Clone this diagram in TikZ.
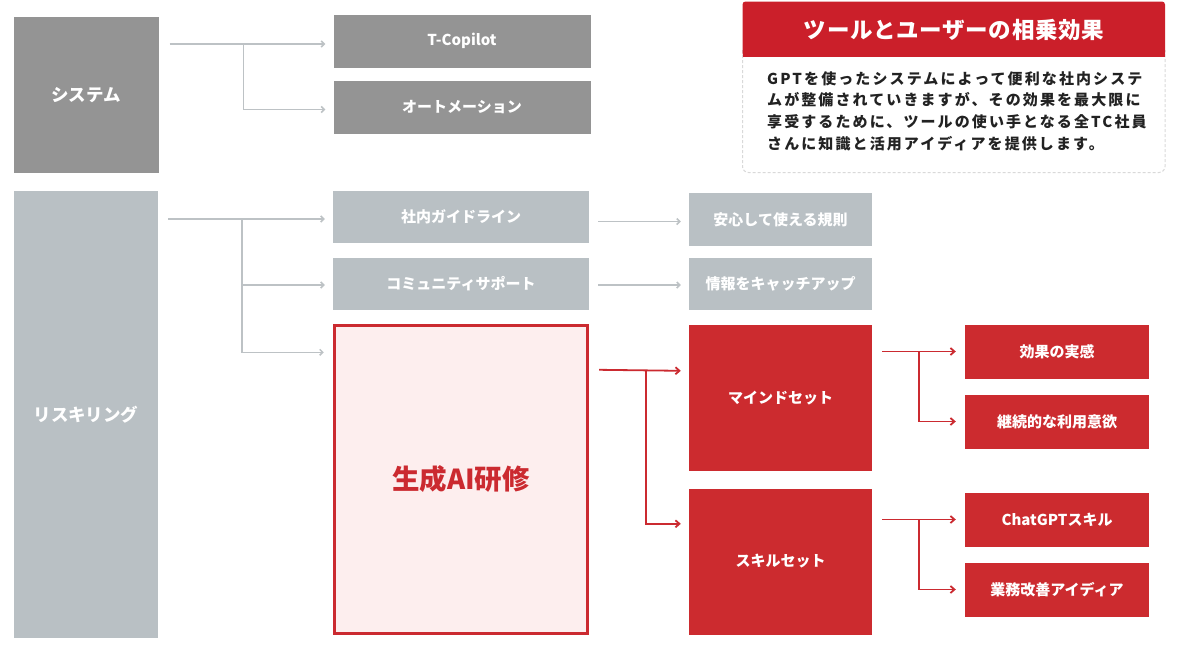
\documentclass[tikz,border=0pt]{standalone}
\usepackage{fontspec}
\setmainfont{Noto Sans CJK JP}
\newfontfamily\bodyfont{Noto Sans CJK JP}[LetterSpace=14]
\newfontfamily\headfont{Noto Sans CJK JP}[LetterSpace=3]
\usetikzlibrary{arrows.meta,calc}
\definecolor{dgray}{HTML}{949494}
\definecolor{lgray}{HTML}{B9C0C4}
\definecolor{boxred}{HTML}{CC2B2F}
\definecolor{headred}{HTML}{CB1F2A}
\definecolor{pinkfill}{HTML}{FDEEEE}
\definecolor{lineg}{HTML}{BDC2C5}
\definecolor{liner}{HTML}{CB2A30}
\definecolor{dashg}{HTML}{D9D9D9}
\definecolor{bodytext}{HTML}{222222}
\begin{document}
\begin{tikzpicture}[x=1pt,y=-1pt,
  box/.style={rectangle, inner sep=0pt, text=white, font=\bfseries\fontsize{15}{17}\selectfont},
  dbox/.style={box, fill=dgray},
  lbox/.style={box, fill=lgray},
  rbox/.style={box, fill=boxred},
  bigtext/.style={font=\bfseries\fontsize{17.5}{20}\selectfont},
  gline/.style={draw=lineg, line width=1.5pt, -{Straight Barb[length=3pt,width=6pt]}},
  rline/.style={draw=liner, line width=1.8pt, -{Straight Barb[length=4pt,width=7pt]}},
]
\useasboundingbox (0,0) rectangle (1200,651);

% ---------- system ----------
\node[dbox, bigtext, minimum width=145pt, minimum height=156pt] (sys) at (86,95) {システム};
\node[dbox, minimum width=257pt, minimum height=53pt] (tc) at (462,41) {T-Copilot};
\node[dbox, minimum width=257pt, minimum height=53pt] (auto) at (462,107.5) {オートメーション};

\coordinate (s0) at ($(sys.east |- tc.west)+(11,3)$);
\coordinate (sj) at ($(s0)+(74,0)$);
\draw[gline] (s0) -- ($(tc.west)+(-8,3)$);
\draw[gline] (sj) |- ($(auto.west)+(-8,2)$);

% ---------- callout ----------
\draw[dashg, line width=1pt, dash pattern=on 3pt off 2pt, rounded corners=6pt]
  (742.5,50) -- (742.5,172.5) -- (1165,172.5) -- (1165,50);
\fill[headred, rounded corners=3pt] (742.5,1.5) rectangle (1165,56.5);
\fill[headred] (742.5,30) rectangle (1165,56.5);
\node[text=white, font=\headfont\bfseries\fontsize{22.5}{24}\selectfont] (head) at (954,30) {ツールとユーザーの相乗効果};
\node[anchor=north west, inner sep=0pt, align=left, text=bodytext,
      font=\bodyfont\bfseries\fontsize{15}{21.7}\selectfont] (body) at (767,71)
  {GPTを使ったシステムによって便利な社内システ\\
   ムが整備されていきますが、その効果を最大限に\\
   享受するために、ツールの使い手となる全TC社員\\
   さんに知識と活用アイディアを提供します。};

% ---------- reskilling ----------
\node[lbox, bigtext, minimum width=144pt, minimum height=447pt] (risk) at (86,414.5) {};
\node[text=white, bigtext] (risklabel) at (86,415) {リスキリング};
\node[lbox, minimum width=256pt, minimum height=52pt] (guide) at (461,217) {社内ガイドライン};
\node[lbox, minimum width=256pt, minimum height=52pt] (comm) at (461,284) {コミュニティサポート};
\node[draw=liner, line width=2.4pt, fill=pinkfill, minimum width=253pt, minimum height=308pt,
      inner sep=0pt, text=liner, font=\bfseries\fontsize{27.5}{30}\selectfont] (gen) at (461,479.5) {生成AI研修};

\coordinate (r0) at ($(risk.east |- guide.west)+(10,2)$);
\coordinate (rj) at ($(r0)+(74,0)$);
\draw[gline] (r0) -- ($(guide.west)+(-8,2)$);
\draw[gline] (rj) |- ($(comm.west)+(-8,1)$);
\draw[gline] (rj) |- ($(gen.north west)+(-9.5,28)$);

\node[lbox, minimum width=183pt, minimum height=53pt] (anshin) at (780.5,219.5) {安心して使える規則};
\node[lbox, minimum width=183pt, minimum height=52pt] (joho) at (780.5,284) {情報をキャッチアップ};
\draw[gline] ($(guide.east |- anshin.west)+(9,2)$) -- ($(anshin.west)+(-8,2)$);
\draw[gline] ($(comm.east |- joho.west)+(9,1)$) -- ($(joho.west)+(-8,1)$);

% ---------- red branch ----------
\node[rbox, minimum width=183pt, minimum height=146pt] (mind) at (780.5,398) {マインドセット};
\node[rbox, minimum width=183pt, minimum height=146pt] (skill) at (780.5,561.5) {スキルセット};
\coordinate (g0) at ($(gen.north east)+(10.5,45.5)$);
\coordinate (gj) at ($(g0)+(47,0)$);
\draw[rline] (g0) -- ($(mind.north west)+(-8,46)$);
\draw[rline] (gj) |- ($(skill.north west)+(-8,35.5)$);

\node[rbox, minimum width=184pt, minimum height=54pt] (kouka) at (1057,351.5) {効果の実感};
\node[rbox, minimum width=184pt, minimum height=54pt] (keizoku) at (1057,421.5) {継続的な利用意欲};
\node[rbox, minimum width=184pt, minimum height=54pt] (chat) at (1057,519.5) {ChatGPTスキル};
\node[rbox, minimum width=184pt, minimum height=54pt] (gyomu) at (1057,589.5) {業務改善アイディア};

\coordinate (m0) at ($(mind.east |- kouka.west)+(10,0)$);
\coordinate (mj) at ($(m0)+(37,0)$);
\draw[rline] (m0) -- ($(kouka.west)+(-9,0)$);
\draw[rline] (mj) |- ($(keizoku.west)+(-9,0)$);
\coordinate (k0) at ($(skill.east |- chat.west)+(10,0)$);
\coordinate (kj) at ($(k0)+(37,0)$);
\draw[rline] (k0) -- ($(chat.west)+(-9,0)$);
\draw[rline] (kj) |- ($(gyomu.west)+(-9,0)$);
\end{tikzpicture}
\end{document}
